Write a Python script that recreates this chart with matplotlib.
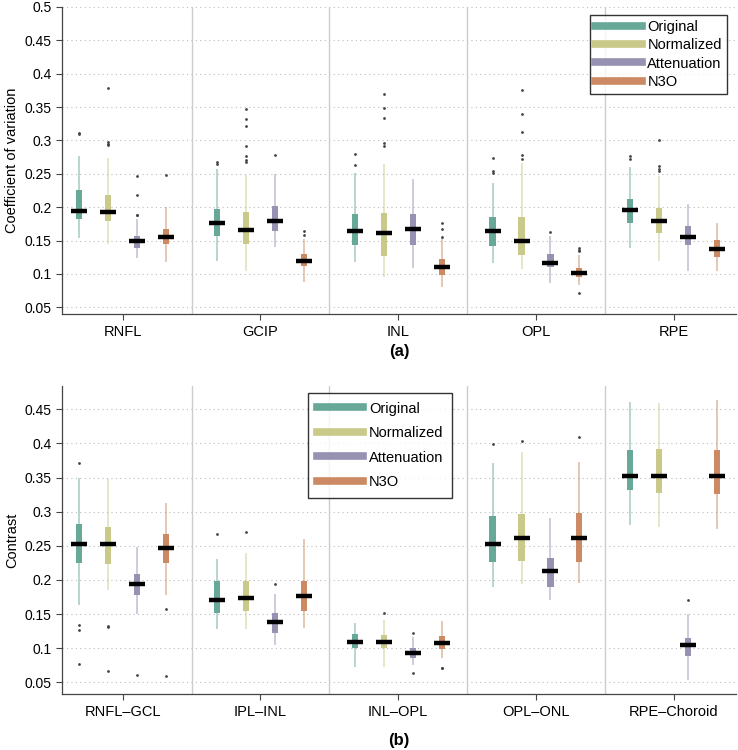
import numpy as np
import matplotlib
matplotlib.use("Agg")
from matplotlib import pyplot as plt
from matplotlib.lines import Line2D

plt.rcParams['font.family'] = ['Liberation Sans', 'DejaVu Sans']

methods = ["Original", "Normalized", "Attenuation", "N3O"]
colors = ["#68a898", "#c9c98a", "#9892b2", "#cb8a64"]

# ---- panel (a): coefficient of variation ----
layers_a = ["RNFL", "GCIP", "INL", "OPL", "RPE"]
# rows = methods, cols = layers
whi_a = [[0.277, 0.257, 0.251, 0.237, 0.261],
         [0.273, 0.248, 0.265, 0.267, 0.247],
         [0.183, 0.250, 0.243, 0.157, 0.205],
         [0.200, 0.153, 0.154, 0.129, 0.176]]
q3_a = [[0.2255, 0.197, 0.190, 0.185, 0.212],
        [0.219, 0.193, 0.192, 0.185, 0.199],
        [0.157, 0.202, 0.190, 0.130, 0.172],
        [0.167, 0.130, 0.122, 0.109, 0.151]]
med_a = [[0.195, 0.176, 0.164, 0.165, 0.196],
         [0.193, 0.166, 0.161, 0.149, 0.180],
         [0.150, 0.180, 0.167, 0.117, 0.156],
         [0.155, 0.120, 0.110, 0.101, 0.137]]
q1_a = [[0.182, 0.157, 0.144, 0.142, 0.176],
        [0.180, 0.145, 0.127, 0.129, 0.161],
        [0.139, 0.165, 0.143, 0.110, 0.144],
        [0.145, 0.112, 0.099, 0.095, 0.126]]
wlo_a = [[0.154, 0.120, 0.118, 0.117, 0.139],
         [0.145, 0.104, 0.095, 0.108, 0.120],
         [0.124, 0.140, 0.109, 0.086, 0.104],
         [0.118, 0.088, 0.081, 0.083, 0.104]]
out_a = [[[0.311, 0.309], [0.268, 0.265], [0.279, 0.264], [0.274, 0.255, 0.251], [0.276, 0.272]],
         [[0.379, 0.298, 0.295, 0.293], [0.347, 0.332, 0.322, 0.292, 0.276, 0.271, 0.268],
          [0.369, 0.348, 0.333, 0.296, 0.292], [0.375, 0.339, 0.313, 0.278, 0.272],
          [0.300, 0.262, 0.258, 0.255]],
         [[0.247, 0.218, 0.188, 0.188], [0.278], [], [0.163], []],
         [[0.248], [0.165, 0.158], [0.176, 0.167, 0.156], [0.139, 0.136, 0.134, 0.071], []]]

# ---- panel (b): contrast ----
layers_b = ["RNFL\u2013GCL", "IPL\u2013INL", "INL\u2013OPL", "OPL\u2013ONL", "RPE\u2013Choroid"]
whi_b = [[0.350, 0.230, 0.137, 0.372, 0.460],
         [0.348, 0.240, 0.142, 0.387, 0.459],
         [0.248, 0.180, 0.117, 0.290, 0.150],
         [0.312, 0.260, 0.140, 0.373, 0.463]]
q3_b = [[0.282, 0.198, 0.121, 0.294, 0.390],
        [0.278, 0.199, 0.120, 0.296, 0.392],
        [0.209, 0.152, 0.100, 0.232, 0.115],
        [0.268, 0.199, 0.118, 0.298, 0.391]]
med_b = [[0.252, 0.171, 0.109, 0.253, 0.352],
         [0.252, 0.174, 0.109, 0.261, 0.352],
         [0.194, 0.139, 0.093, 0.213, 0.104],
         [0.247, 0.176, 0.107, 0.262, 0.352]]
q1_b = [[0.225, 0.152, 0.101, 0.226, 0.332],
        [0.223, 0.154, 0.101, 0.228, 0.327],
        [0.178, 0.123, 0.086, 0.190, 0.088],
        [0.225, 0.155, 0.099, 0.227, 0.326]]
wlo_b = [[0.163, 0.128, 0.072, 0.189, 0.280],
         [0.186, 0.128, 0.072, 0.194, 0.277],
         [0.150, 0.104, 0.076, 0.171, 0.053],
         [0.178, 0.130, 0.085, 0.196, 0.274]]
out_b = [[[0.371, 0.134, 0.127, 0.077], [0.267], [], [0.399], []],
         [[0.132, 0.131, 0.066], [0.270], [0.151], [0.404], []],
         [[0.061], [0.194], [0.123, 0.063], [], [0.171]],
         [[0.158, 0.060], [], [0.071, 0.071], [0.410], []]]

offsets = [-0.315, -0.105, 0.105, 0.315]


def draw_panel(ax, layers, whi, q3, med, q1, wlo, outs):
    x = np.arange(len(layers))
    for i in range(len(methods)):
        xi = x + offsets[i]
        ax.vlines(xi, wlo[i], whi[i], color=colors[i], alpha=0.6, lw=1.1, zorder=2)
        ax.bar(xi, np.array(q3[i]) - np.array(q1[i]), bottom=q1[i], width=0.045,
               color=colors[i], edgecolor="none", zorder=3)
        ax.hlines(med[i], xi - 0.058, xi + 0.058, color="black", lw=3.2, zorder=4)
        for j in range(len(layers)):
            if outs[i][j]:
                ax.scatter([xi[j]] * len(outs[i][j]), outs[i][j], s=4,
                           color="#444444", zorder=5, linewidths=0)
    for d in x[:-1] + 0.5:
        ax.axvline(d, color="#cccccc", lw=1.0, zorder=1)
    ax.set_xticks(x)
    ax.set_xticklabels(layers, fontsize=10.5)
    ax.set_xlim(-0.44, 4.45)
    ax.grid(axis="y", linestyle=(0, (1, 3)), color="#bbbbbb", lw=0.8)
    ax.set_axisbelow(True)
    for s in ["top", "right"]:
        ax.spines[s].set_visible(False)
    for s in ["left", "bottom"]:
        ax.spines[s].set_color("#444444")
        ax.spines[s].set_linewidth(0.9)
    ax.tick_params(axis="both", colors="#444444", length=4, width=0.8, labelcolor="black")
    ax.tick_params(axis="x", pad=4)
    ax.tick_params(axis="y", labelsize=10)


fig = plt.figure(figsize=(7.38, 7.5), dpi=100)
ax1 = fig.add_axes([0.084, 0.5813, 0.913, 0.4094])
ax2 = fig.add_axes([0.084, 0.0747, 0.913, 0.4106])

draw_panel(ax1, layers_a, whi_a, q3_a, med_a, q1_a, wlo_a, out_a)
ax1.set_ylim(0.04, 0.5)
ax1.set_yticks(np.arange(0.05, 0.501, 0.05))
ax1.set_yticklabels(["%g" % round(v, 2) for v in np.arange(0.05, 0.501, 0.05)])
ax1.set_ylabel("Coefficient of variation", fontsize=10.5)

draw_panel(ax2, layers_b, whi_b, q3_b, med_b, q1_b, wlo_b, out_b)
ax2.set_ylim(0.033, 0.484)
ax2.set_yticks(np.arange(0.05, 0.451, 0.05))
ax2.set_yticklabels(["%g" % round(v, 2) for v in np.arange(0.05, 0.451, 0.05)])
ax2.set_ylabel("Contrast", fontsize=10.5)

handles = [Line2D([], [], color=c, lw=5.5) for c in colors]
leg1 = ax1.legend(handles, methods, loc="upper right", bbox_to_anchor=(0.987, 0.975),
                  fontsize=10.5, fancybox=False, edgecolor="black", handlelength=3.2,
                  labelspacing=0.3, handletextpad=0.4, borderpad=0.35, borderaxespad=0)
leg1.get_frame().set_linewidth(1.0)
leg2 = ax2.legend(handles, methods, loc="upper left", bbox_to_anchor=(0.365, 0.978),
                  fontsize=10.5, fancybox=False, edgecolor="black", handlelength=3.2,
                  labelspacing=0.72, handletextpad=0.4, borderpad=0.6, borderaxespad=0)
leg2.get_frame().set_linewidth(1.0)

fig.text(0.5405, 0.531, "(a)", ha="center", va="center", fontsize=12, fontweight="bold")
fig.text(0.5405, 0.0133, "(b)", ha="center", va="center", fontsize=12, fontweight="bold")

fig.savefig("out.png", dpi=100)
